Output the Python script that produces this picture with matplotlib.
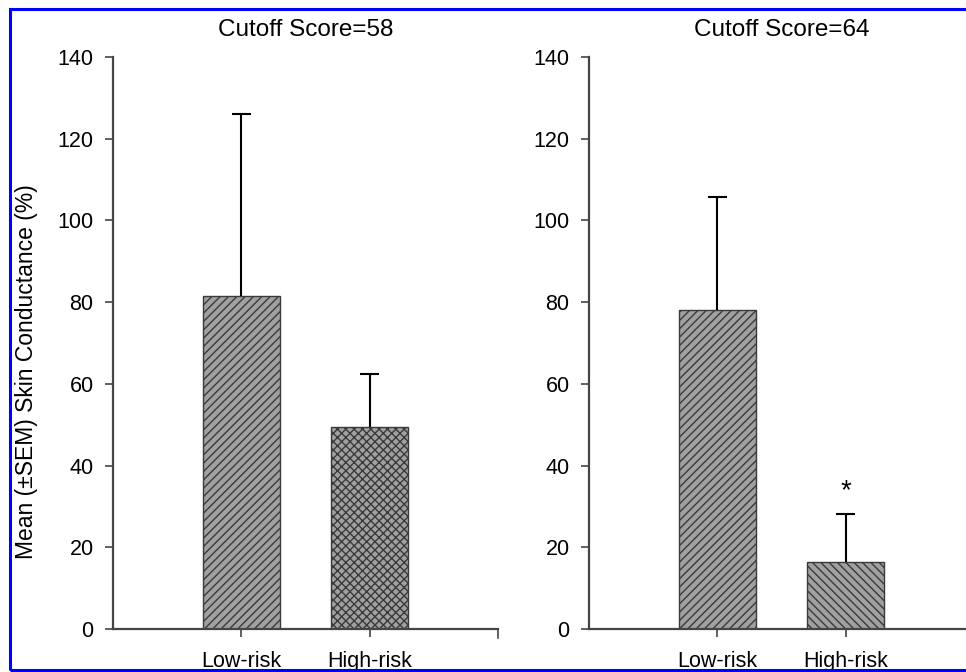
import matplotlib
matplotlib.use("Agg")
import matplotlib.pyplot as plt
import matplotlib.patches as mpatches

plt.rcParams['font.family'] = ['Liberation Sans', 'DejaVu Sans']
plt.rcParams['hatch.linewidth'] = 1.0
plt.rcParams['hatch.color'] = '#2a2a2a'

categories = ["Low-risk", "High-risk"]
titles = ["Cutoff Score=58", "Cutoff Score=64"]
means_58 = [81.5, 49.5]
sem_58 = [44.5, 13.0]
means_64 = [78.0, 16.3]
sem_64 = [27.8, 11.8]
hatches_58 = ["////", "xxxx"]
hatches_64 = ["////", "\\\\\\\\"]
yticks = [0, 20, 40, 60, 80, 100, 120, 140]
ylabel = "Mean (±SEM) Skin Conductance (%)"

W, H = 966, 672
fig = plt.figure(figsize=(W / 100, H / 100), dpi=100)

def px_axes(x0, x1, ytop, ybot):
    return fig.add_axes([x0 / W, (H - ybot) / H, (x1 - x0) / W, (ybot - ytop) / H])

ax1 = px_axes(113, 498, 57, 629)
ax2 = px_axes(589, 974, 57, 629)

spine_col = '#454545'
for ax, means, sems, hatches, title in [
    (ax1, means_58, sem_58, hatches_58, titles[0]),
    (ax2, means_64, sem_64, hatches_64, titles[1]),
]:
    pos = [1, 2]
    ax.bar(pos, means, width=0.6, color='#a0a0a0', edgecolor='#3a3a3a',
           linewidth=1.0, hatch=hatches, zorder=2)
    tops = [m + s for m, s in zip(means, sems)]
    ax.vlines(pos, means, tops, color='black', linewidth=1.5, zorder=3)
    ax.hlines(tops, [p - 0.075 for p in pos], [p + 0.075 for p in pos],
              color='black', linewidth=1.5, zorder=3)
    ax.set_xlim(0, 3)
    ax.set_ylim(0, 140)
    ax.set_yticks(yticks)
    ax.set_xticks(pos)
    ax.set_xticklabels(categories)
    for s in ['top', 'right']:
        ax.spines[s].set_visible(False)
    for s in ['left', 'bottom']:
        ax.spines[s].set_color(spine_col)
        ax.spines[s].set_linewidth(1.6)
    ax.tick_params(axis='y', direction='out', length=6, width=1.2, color=spine_col,
                   labelsize=15.5, pad=8)
    ax.tick_params(axis='x', direction='out', length=6, width=1.2, color=spine_col,
                   labelsize=15.5, pad=10)
    ax.set_title(title, fontsize=17.5, pad=15)
    ax.patch.set_alpha(0)

# end tick on the left x-axis
ax1.plot([3, 3], [0, -2.2], color=spine_col, lw=1.2, clip_on=False)

ax1.set_ylabel(ylabel, fontsize=16.5)
ax1.yaxis.set_label_coords(-0.195, 0.45)

# significance asterisk
ax2.text(2, means_64[1] + sem_64[1] + 2.5, "*", ha='center', va='bottom', fontsize=20)

# blue border
fig.patches.append(mpatches.Rectangle((9.5 / W, (H - 669.5) / H), 1.0, (669.5 - 8.5) / H,
                                      transform=fig.transFigure, fill=False,
                                      edgecolor='#0000ff', linewidth=2.2))

fig.savefig("out.png", dpi=100)
